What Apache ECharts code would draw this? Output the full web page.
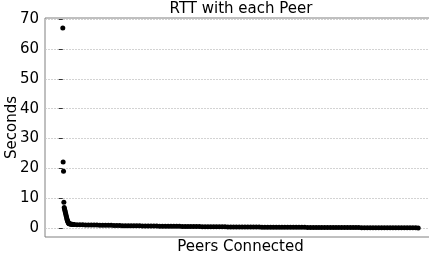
<!DOCTYPE html>
<html>
<head>
<meta charset="utf-8">
<script src="https://cdn.jsdelivr.net/npm/echarts@6/dist/echarts.min.js"></script>
<style>
  html, body { margin: 0; padding: 0; background: #fff; }
  #chart { width: 429px; height: 261px; }
</style>
</head>
<body>
<div id="chart"></div>
<script>
// peers sorted by RTT, slowest first (rank = position in the sorted list)
var peerRank = [
  0, 1, 2, 3, 4, 5, 6, 7, 8, 9, 10, 11, 12, 13, 14, 15, 16, 17, 18, 20, 22, 24, 26, 28, 30,
  32, 40, 48, 56, 64, 72, 80, 88, 96, 104, 112, 120, 128, 136, 144, 152,
  160, 168, 176, 184, 192, 200, 208, 216, 224, 232, 240, 248, 256, 264,
  272, 280, 288, 296, 304, 312, 320, 328, 336, 344, 352, 360, 368, 376, 384,
  392, 400, 408, 416, 424, 432, 440, 448, 456, 464, 472, 480, 488, 496, 504, 512, 520, 528, 536, 544, 552,
  560, 568, 576, 584, 592, 600, 608, 616, 624, 632, 640, 648, 656, 664, 672, 680, 688, 696, 704, 712, 720, 728, 736, 744,
  752, 760, 768, 776, 784, 792, 800, 808, 816, 824, 832, 840, 848, 856, 864, 872, 880, 888, 896, 904, 912, 920, 928, 936, 944, 952, 960, 968, 976, 984, 992, 999
];
var rttSeconds = [
  67.0, 22.1, 19.0, 8.6, 6.9, 6.4, 5.9, 5.4, 4.9, 4.4, 3.9, 3.4, 2.9, 2.5, 2.2, 1.9, 1.7, 1.55, 1.45, 1.38, 1.32, 1.27, 1.23, 1.2, 1.17,
  1.15, 1.12, 1.10, 1.08, 1.06, 1.04, 1.02, 1.00, 0.98, 0.96, 0.95, 0.93, 0.91, 0.90, 0.88, 0.86,
  0.82, 0.80, 0.79, 0.78, 0.76, 0.75, 0.74, 0.73, 0.72, 0.71, 0.70, 0.70, 0.69, 0.68,
  0.62, 0.61, 0.60, 0.59, 0.58, 0.57, 0.56, 0.56, 0.55, 0.54, 0.53, 0.52, 0.52, 0.51, 0.50,
  0.46, 0.45, 0.44, 0.44, 0.43, 0.42, 0.41, 0.41, 0.40, 0.39, 0.38, 0.38, 0.37, 0.36, 0.36, 0.35, 0.34, 0.34, 0.33, 0.33, 0.32,
  0.30, 0.30, 0.29, 0.29, 0.28, 0.28, 0.27, 0.27, 0.26, 0.26, 0.25, 0.25, 0.24, 0.24, 0.23, 0.23, 0.22, 0.22, 0.21, 0.21, 0.20, 0.20, 0.19, 0.19,
  0.17, 0.17, 0.16, 0.16, 0.16, 0.15, 0.15, 0.15, 0.14, 0.14, 0.14, 0.13, 0.13, 0.13, 0.12, 0.12, 0.12, 0.11, 0.11, 0.11, 0.10, 0.10, 0.10, 0.09, 0.09, 0.09, 0.08, 0.08, 0.07, 0.07, 0.06, 0.05
];
var yTicks = [0, 10, 20, 30, 40, 50, 60, 70];

var points = [];
for (var i = 0; i < peerRank.length; i++) {
  points.push([peerRank[i], rttSeconds[i]]);
}

var myChart = echarts.init(document.getElementById("chart"));
myChart.setOption({
  animation: false,
  textStyle: { fontFamily: "DejaVu Sans" },
  title: {
    text: "RTT with each Peer",
    left: 241,
    top: 2,
    padding: 0,
    textAlign: "center",
    textStyle: { fontSize: 15, fontWeight: "normal", color: "#000", fontFamily: "DejaVu Sans" }
  },
  grid: {
    left: 45,
    top: 18,
    width: 391,
    height: 219,
    containLabel: false,
    outerBoundsMode: "none",
    show: true,
    borderColor: "#808080",
    borderWidth: 1
  },
  xAxis: {
    type: "value",
    min: -50,
    max: 1049,
    name: "Peers Connected",
    nameLocation: "middle",
    nameGap: 3,
    nameMoveOverlap: false,
    nameTextStyle: { fontSize: 15, color: "#000", fontFamily: "DejaVu Sans" },
    axisLine: { show: false },
    axisTick: { show: false },
    axisLabel: { show: false },
    splitLine: { show: false }
  },
  yAxis: {
    type: "value",
    min: -3.0,
    max: 70.35,
    name: "Seconds",
    nameLocation: "middle",
    nameGap: 25,
    nameMoveOverlap: false,
    nameTextStyle: { fontSize: 15, color: "#000", fontFamily: "DejaVu Sans" },
    axisLine: { show: false },
    axisTick: { show: true, length: 4, customValues: yTicks, lineStyle: { color: "#333" } },
    axisLabel: { customValues: yTicks, fontSize: 15, color: "#000", margin: 6 },
    splitLine: { show: true, lineStyle: { color: "#c8c8c8", type: [2, 1], width: 0.8 } }
  },
  series: [
    {
      type: "scatter",
      data: points,
      symbolSize: 5,
      itemStyle: { color: "#000", opacity: 1 }
    }
  ]
});
</script>
</body>
</html>
